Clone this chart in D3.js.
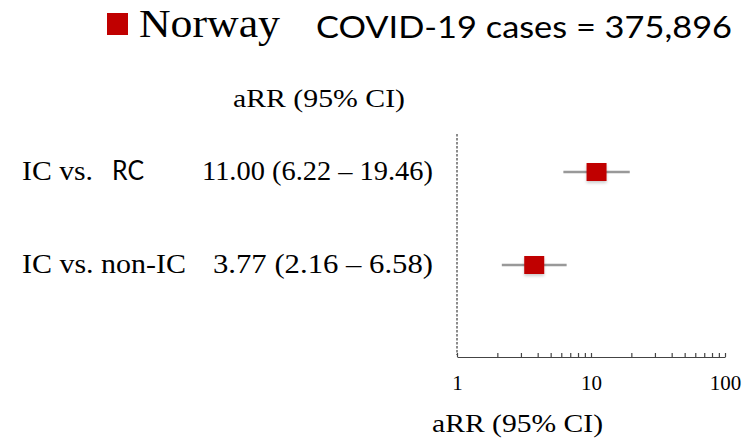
<!DOCTYPE html>
<html><head><meta charset="utf-8">
<script src="https://cdn.jsdelivr.net/npm/d3@7"></script>
<style>html,body{margin:0;padding:0;background:#fff;}svg{display:block;}</style>
</head><body>
<script>
const country = "Norway";
const casesLabel = "COVID-19 cases = 375,896";
const labelSerif = ["IC vs.", "IC vs. non-IC"];
const labelSans = ["RC", ""];
const estimate = [11.00, 3.77];
const lower = [6.22, 2.16];
const upper = [19.46, 6.58];
const tickLabels = [1, 10, 100];
const axisTitle = "aRR (95% CI)";

const W = 751, H = 440;
const svg = d3.select("body").append("svg").attr("width", W).attr("height", H);
const serif = "'Liberation Serif', 'Times New Roman', serif";
const sans = "Lato, 'Open Sans', sans-serif";
const red = "#C00000";

const x = d3.scaleLog().domain([1, 100]).range([457, 725]);
const y = d3.scalePoint().domain(d3.range(estimate.length)).range([172, 265]);

// Title
svg.append("rect").attr("x", 107).attr("y", 13).attr("width", 21).attr("height", 22).attr("fill", red);
svg.append("text").attr("x", 139).attr("y", 37).attr("font-family", serif).attr("font-size", 39)
  .attr("textLength", 141).attr("lengthAdjust", "spacingAndGlyphs").text(country);
svg.append("text").attr("x", 316).attr("y", 38).attr("font-family", sans).attr("font-size", 31)
  .attr("textLength", 416).attr("lengthAdjust", "spacingAndGlyphs").text(casesLabel);

// Header
svg.append("text").attr("x", 233).attr("y", 107)
  .attr("font-family", serif).attr("font-size", 26)
  .attr("textLength", 172).attr("lengthAdjust", "spacingAndGlyphs").text(axisTitle);

// Row labels
const fmt = d3.format(".2f");
const rowLeftLen = [71, 164];
const rowRightX = [202, 213];
estimate.forEach((e, i) => {
  svg.append("text").attr("x", 22).attr("y", y(i) + 8).attr("font-family", serif).attr("font-size", 28)
    .attr("textLength", rowLeftLen[i]).attr("lengthAdjust", "spacingAndGlyphs").text(labelSerif[i]);
  if (labelSans[i]) svg.append("text").attr("x", 112).attr("y", y(i) + 8).attr("font-family", sans)
    .attr("font-size", 27).attr("textLength", 32).attr("lengthAdjust", "spacingAndGlyphs").text(labelSans[i]);
  svg.append("text").attr("x", rowRightX[i]).attr("y", y(i) + 8)
    .attr("font-family", serif).attr("font-size", 28)
    .attr("textLength", 433 - rowRightX[i]).attr("lengthAdjust", "spacingAndGlyphs")
    .text(`${fmt(e)} (${fmt(lower[i])} \u2013 ${fmt(upper[i])})`);
});

// Reference line at 1
svg.append("line").attr("x1", x(1)).attr("x2", x(1)).attr("y1", 134).attr("y2", 355)
  .attr("stroke", "#8c8c8c").attr("stroke-width", 2).attr("stroke-dasharray", "2.5,1.5");

// CI lines and markers
const defs = svg.append("defs");
const f = defs.append("filter").attr("id", "sh").attr("x", "-50%").attr("y", "-50%").attr("width", "200%").attr("height", "200%");
f.append("feDropShadow").attr("dx", 0).attr("dy", 2).attr("stdDeviation", 1.5).attr("flood-color", "#000").attr("flood-opacity", 0.2);

const g = svg.append("g");
g.selectAll("line.ci").data(estimate).join("line").attr("class", "ci")
  .attr("x1", (d, i) => x(lower[i])).attr("x2", (d, i) => x(upper[i]))
  .attr("y1", (d, i) => y(i)).attr("y2", (d, i) => y(i))
  .attr("stroke", "#999").attr("stroke-width", 2.5);
g.selectAll("rect.pt").data(estimate).join("rect").attr("class", "pt")
  .attr("x", d => x(d) - 10).attr("y", (d, i) => y(i) - 9).attr("width", 20).attr("height", 18)
  .attr("fill", red).attr("filter", "url(#sh)");

// Axis
const axis = d3.axisBottom(x).tickValues(x.ticks()).tickSizeInner(-4).tickSizeOuter(0).tickPadding(18)
  .tickFormat(d => tickLabels.includes(d) ? String(d) : "");
const ax = svg.append("g").attr("transform", "translate(0,357)").call(axis);
ax.select(".domain").attr("stroke", "#444").attr("stroke-width", 1.2);
ax.selectAll(".tick line").attr("stroke", "#444").attr("stroke-width", 1.2);
ax.selectAll(".tick text").attr("font-family", serif).attr("font-size", 21).attr("fill", "#000");

svg.append("text").attr("x", 432).attr("y", 432)
  .attr("font-family", serif).attr("font-size", 26)
  .attr("textLength", 171).attr("lengthAdjust", "spacingAndGlyphs").text(axisTitle);
</script>
</body></html>
